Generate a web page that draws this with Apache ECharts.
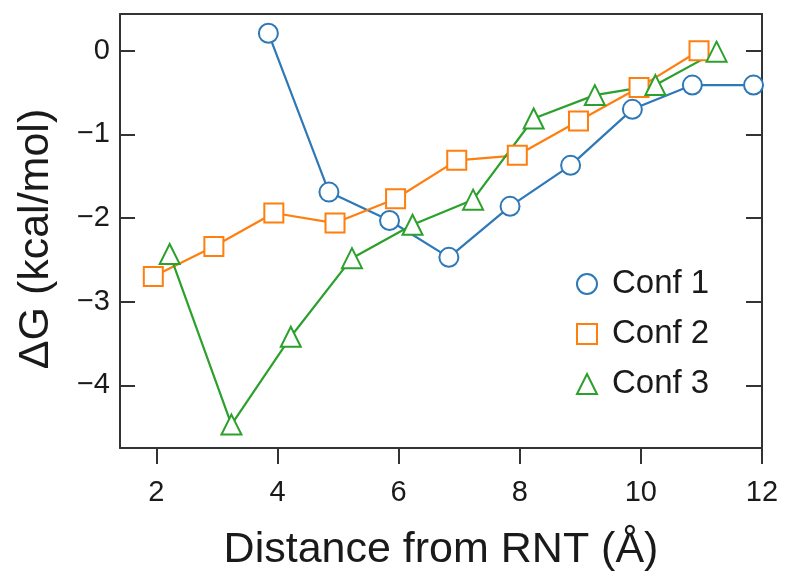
<!DOCTYPE html>
<html>
<head>
<meta charset="utf-8">
<script src="https://cdn.jsdelivr.net/npm/echarts@6/dist/echarts.min.js"></script>
<style>
  html, body { margin: 0; padding: 0; background: #fff; }
  #chart { width: 787px; height: 574px; }
</style>
</head>
<body>
<div id="chart"></div>
<script>
// Distance (Å) / ΔG (kcal/mol)
const conf1X = [3.85, 4.85, 5.85, 6.83, 7.84, 8.84, 9.86, 10.85, 11.86]
const conf1Y = [0.21, -1.69, -2.03, -2.47, -1.86, -1.37, -0.70, -0.41, -0.41]

const conf2X = [1.95, 2.95, 3.94, 4.95, 5.95, 6.96, 7.96, 8.97, 9.97, 10.96]
const conf2Y = [-2.70, -2.34, -1.94, -2.06, -1.77, -1.31, -1.25, -0.84, -0.44, 0.0]

const conf3X = [2.22, 3.24, 4.22, 5.23, 6.23, 7.23, 8.23, 9.24, 10.24, 11.25]
const conf3Y = [-2.43, -4.47, -3.42, -2.48, -2.08, -1.78, -0.81, -0.53, -0.41, -0.01]

const xTicks = [2, 4, 6, 8, 10, 12]
const yTicks = [-4, -3, -2, -1, 0]

const names = ['Conf 1', 'Conf 2', 'Conf 3']
const colors = ['#2e78b7', '#ff7f0e', '#2ca02c']
const symbols = ['emptyCircle', 'emptyRect', 'emptyTriangle']

const zip = (xs, ys) => xs.map((x, i) => [x, ys[i]])

const font = '"Liberation Sans", Arial, Helvetica, sans-serif'
const frame = '#333'
const minus = v => (v < 0 ? '\u2212' + Math.abs(v) : String(v))

const chart = echarts.init(document.getElementById('chart'))

chart.setOption({
  backgroundColor: '#fff',
  animation: false,
  textStyle: { fontFamily: font },
  grid: { left: 120, right: 25, top: 14, bottom: 126, outerBoundsMode: 'none' },
  legend: {
    orient: 'vertical',
    left: 566, top: 266,
    padding: 0,
    itemWidth: 40, itemHeight: 25, itemGap: 14,
    lineStyle: { opacity: 0 },
    textStyle: { fontFamily: font, fontSize: 33, color: '#1a1a1a', lineHeight: 36 },
    data: names,
  },
  xAxis: [
    {
      type: 'value', position: 'bottom', min: 1.4, max: 12,
      name: 'Distance from RNT (Å)', nameLocation: 'middle', nameGap: 81,
      nameTextStyle: { fontFamily: font, fontSize: 43, color: '#1a1a1a' },
      axisLine: { show: true, onZero: false, lineStyle: { color: frame, width: 2 } },
      axisTick: { show: true, inside: false, length: 16, customValues: xTicks, lineStyle: { color: frame, width: 2 } },
      axisLabel: { customValues: xTicks, margin: 30, fontSize: 29, color: '#1a1a1a', fontFamily: font },
      splitLine: { show: false },
    },
    {
      type: 'value', position: 'top', min: 1.4, max: 12,
      axisLine: { show: true, onZero: false, lineStyle: { color: frame, width: 2 } },
      axisTick: { show: false }, axisLabel: { show: false }, splitLine: { show: false },
    },
  ],
  yAxis: [
    {
      type: 'value', position: 'left', min: -4.75, max: 0.44,
      name: 'ΔG (kcal/mol)', nameLocation: 'middle', nameGap: 62,
      nameTextStyle: { fontFamily: font, fontSize: 43, color: '#1a1a1a', padding: [0, 16, 0, 0] },
      axisLine: { show: true, onZero: false, lineStyle: { color: frame, width: 2 } },
      axisTick: { show: true, inside: true, length: 15, customValues: yTicks, lineStyle: { color: frame, width: 2 } },
      axisLabel: { customValues: yTicks, margin: 10, fontSize: 29, color: '#1a1a1a', fontFamily: font, formatter: minus },
      splitLine: { show: false },
    },
    {
      type: 'value', position: 'right', min: -4.75, max: 0.44,
      axisLine: { show: true, onZero: false, lineStyle: { color: frame, width: 2 } },
      axisTick: { show: true, inside: true, length: 16, customValues: yTicks, lineStyle: { color: frame, width: 2 } },
      axisLabel: { show: false }, splitLine: { show: false },
    },
  ],
  series: [
    { data: zip(conf1X, conf1Y), symbolSize: 19 },
    { data: zip(conf2X, conf2Y), symbolSize: 19 },
    { data: zip(conf3X, conf3Y), symbolSize: 20 },
  ].map((s, i) => ({
    name: names[i], type: 'line', xAxisIndex: 0, yAxisIndex: 0,
    data: s.data, symbol: symbols[i], symbolSize: s.symbolSize,
    lineStyle: { color: colors[i], width: 2.2 },
    itemStyle: { color: colors[i], borderColor: colors[i], borderWidth: 2.2 },
    emphasis: { disabled: true },
  })),
})
</script>
</body>
</html>
